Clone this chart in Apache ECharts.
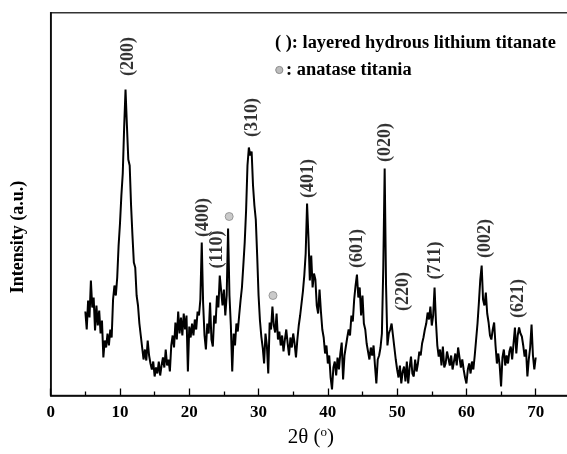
<!DOCTYPE html>
<html>
<head>
<meta charset="utf-8">
<script src="https://cdn.jsdelivr.net/npm/echarts@6/dist/echarts.min.js"></script>
<style>
  html, body { margin: 0; padding: 0; background: #fff; }
  #chart { width: 567px; height: 454px; }
</style>
</head>
<body>
<div id="chart"></div>
<script>
const startAngle = 5;
const angleStep = 0.2;
const intensity = [
  84, 66, 95, 78, 115,     // 5
  88, 98, 65, 90, 70,      // 6
  85, 62, 75, 38, 55,      // 7
  48, 62, 50, 66, 58,      // 8
  96, 110, 100, 118, 150,  // 9
  172, 200, 222, 268, 306, // 10
  270, 236, 230, 190, 160, // 11
  133, 128, 100, 90, 72,   // 12
  60, 48, 36, 46, 35,      // 13
  55, 40, 32, 26, 34,      // 14
  19, 28, 22, 34, 20,      // 15
  30, 38, 28, 46, 30,      // 16
  36, 24, 50, 60, 48,      // 17
  73, 56, 84, 62, 78,      // 18
  60, 82, 66, 80, 24,      // 19
  69, 58, 72, 60, 76,      // 20
  66, 84, 80, 96, 153,     // 21
  92, 60, 46, 72, 62,      // 22
  93, 56, 49, 80, 72,      // 23
  100, 88, 120, 105, 90,   // 24
  106, 80, 100, 167, 100,  // 25
  70, 24, 62, 50, 72,      // 26
  64, 80, 95, 108, 130,    // 27
  153, 185, 230, 248, 240, // 28
  244, 210, 190, 176, 140, // 29
  100, 75, 59, 48, 32,     // 30
  62, 50, 22, 73, 66,      // 31
  89, 70, 63, 82, 56,      // 32
  64, 50, 60, 44, 56,      // 33
  66, 52, 40, 58, 48,      // 34
  62, 52, 38, 56, 70,      // 35
  80, 92, 104, 120, 142,   // 36
  192, 158, 115, 140, 108, // 37
  122, 116, 90, 82, 106,   // 38
  84, 66, 58, 42, 50,      // 39
  32, 40, 18, 6, 28,       // 40
  34, 20, 38, 26, 42,      // 41
  53, 16, 40, 49, 58,      // 42
  66, 60, 80, 74, 96,      // 43
  110, 121, 98, 108, 80,   // 44
  100, 72, 66, 52, 44,     // 45
  36, 48, 40, 50, 30,      // 46
  12, 36, 40, 48, 62,      // 47
  128, 227, 110, 50, 62,   // 48
  66, 72, 60, 48, 36,      // 49
  26, 18, 30, 12, 24,      // 50
  29, 14, 34, 12, 28,      // 51
  39, 22, 19, 36, 24,      // 52
  32, 44, 40, 52, 58,      // 53
  66, 72, 83, 76, 89,      // 54
  70, 80, 108, 74, 50,     // 55
  39, 46, 30, 49, 28,      // 56
  32, 44, 46, 30, 40,      // 57
  26, 34, 42, 30, 48,      // 58
  49, 28, 36, 26, 18,      // 59
  12, 26, 32, 22, 34,      // 60
  26, 40, 56, 72, 93,      // 61
  116, 130, 96, 90, 103,   // 62
  82, 73, 60, 56, 66,      // 63
  73, 50, 32, 42, 30,      // 64
  9, 38, 46, 30, 40,       // 65
  32, 44, 49, 36, 52,      // 66
  68, 42, 60, 68, 62,      // 67
  59, 50, 39, 46, 19,      // 68
  36, 48, 71, 40, 26,      // 69
  38                       // 70
];

// peak indexing labels (layered hydrous lithium titanate)
const peakNames   = ['(200)', '(400)', '(110)', '(310)', '(401)', '(601)', '(020)', '(220)', '(711)', '(002)', '(621)'];
const peakAngles  = [11.16, 22.08, 24.0, 29.17, 37.13, 44.29, 48.25, 50.95, 55.46, 62.74, 67.48];
const peakHeights = [339, 178, 146, 278, 217, 147, 253, 104, 135, 157, 97];

// anatase markers
const anataseAngles  = [25.76, 32.08];
const anataseHeights = [179, 100];

const serif = '"Liberation Serif", "Times New Roman", serif';

const lineData = intensity.map((v, i) => [+(startAngle + i * angleStep).toFixed(1), v]);

const chart = echarts.init(document.getElementById('chart'));
chart.setOption({
  animation: false,
  grid: {
    left: 50.7, top: 12.7, width: 554.3, height: 382.8,
    outerBoundsMode: 'none',
    containLabel: false,
    show: true, borderColor: '#333', borderWidth: 1.5
  },
  xAxis: {
    type: 'value', min: 0, max: 80, interval: 10,
    name: '2θ ({sup|o})',
    nameLocation: 'middle',
    nameGap: 31,
    nameTextStyle: {
      fontFamily: serif, fontSize: 21, color: '#000',
      padding: [0, 34, 0, 0],
      rich: { sup: { fontFamily: serif, fontSize: 13, color: '#000', verticalAlign: 'top', padding: [0, 0, 8, 0] } }
    },
    axisLine: { lineStyle: { color: '#000', width: 1.5 } },
    axisTick: { inside: true, length: 7, lineStyle: { color: '#000', width: 1.3 } },
    minorTick: { show: true, splitNumber: 2, length: 4, lineStyle: { color: '#000', width: 1.3 } },
    axisLabel: { margin: 9, fontFamily: serif, fontWeight: 'bold', fontSize: 17, color: '#000' },
    splitLine: { show: false }
  },
  yAxis: {
    type: 'value', min: 0, max: 382.8,
    axisLine: { show: true, lineStyle: { color: '#000', width: 1.5 } },
    axisTick: { show: false },
    axisLabel: { show: false },
    splitLine: { show: false }
  },
  graphic: [
    {
      type: 'text', x: 18, y: 237, rotation: Math.PI / 2,
      style: { text: 'Intensity (a.u.)', font: 'bold 18px ' + serif, fill: '#000', align: 'center', verticalAlign: 'middle' }
    },
    {
      type: 'text', x: 275, y: 43,
      style: { text: '( ): layered hydrous lithium titanate', font: 'bold 18.4px ' + serif, fill: '#000', verticalAlign: 'middle' }
    },
    {
      type: 'circle', shape: { cx: 279.3, cy: 70, r: 3.6 },
      style: { fill: '#bdbdbd', stroke: '#8a8a8a', lineWidth: 1 }
    },
    {
      type: 'text', x: 286, y: 70,
      style: { text: ': anatase titania', font: 'bold 18.4px ' + serif, fill: '#000', verticalAlign: 'middle' }
    }
  ],
  series: [
    {
      type: 'line',
      data: lineData,
      showSymbol: false,
      lineStyle: { color: '#000', width: 2 },
      z: 3
    },
    {
      type: 'scatter',
      symbolSize: 0,
      data: peakNames.map((n, i) => ({ name: n, value: [peakAngles[i], peakHeights[i]] })),
      label: {
        show: true, position: 'inside', rotate: 90, formatter: '{b}',
        fontFamily: serif, fontWeight: 'bold', fontSize: 18, color: '#000'
      },
      z: 4
    },
    {
      type: 'scatter',
      symbol: 'circle',
      symbolSize: 8,
      data: anataseAngles.map((a, i) => [a, anataseHeights[i]]),
      itemStyle: { color: '#bdbdbd', borderColor: '#8a8a8a', borderWidth: 1 },
      z: 4
    }
  ]
});
</script>
</body>
</html>
